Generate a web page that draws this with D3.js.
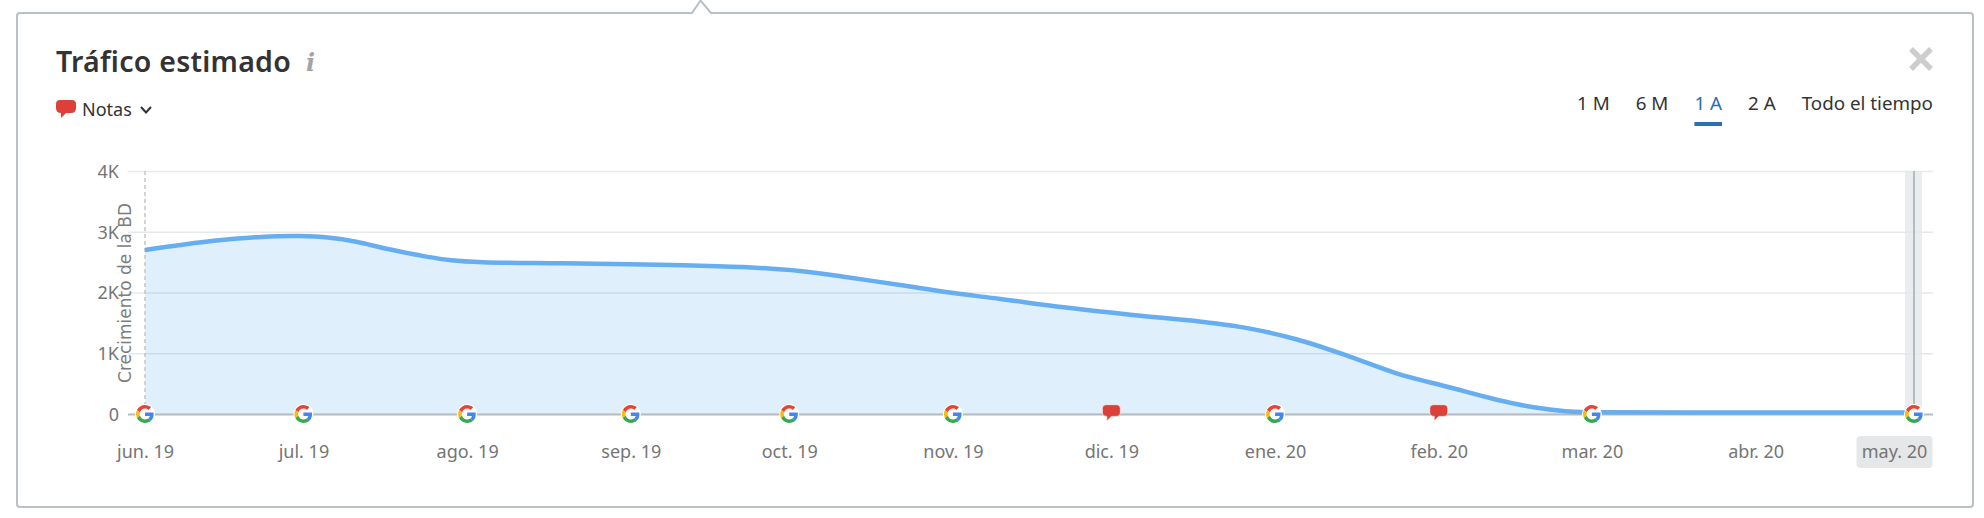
<!DOCTYPE html>
<html lang="es">
<head>
<meta charset="utf-8">
<title>Tráfico estimado</title>
<script src="https://cdn.jsdelivr.net/npm/d3@7/dist/d3.min.js"></script>
<style>
html,body{margin:0;padding:0;background:#fff;overflow:hidden}
svg{display:block}
text{font-family:"Noto Sans",sans-serif}
</style>
</head>
<body>
<div id="chart"></div>
<script>
const title = "Tráfico estimado";
const notesLabel = "Notas";
const rangeTabs = ["1 M","6 M","1 A","2 A","Todo el tiempo"];
const activeTab = "1 A";
const yAxisTitle = "Crecimiento de la BD";
const yTicks = [0,1000,2000,3000,4000];
const yTickLabels = ["0","1K","2K","3K","4K"];
const monthDates = ["2019-06-01","2019-07-01","2019-08-01","2019-09-01","2019-10-01","2019-11-01","2019-12-01","2020-01-01","2020-02-01","2020-03-01","2020-04-01","2020-05-01"];
const monthLabels = ["jun. 19","jul. 19","ago. 19","sep. 19","oct. 19","nov. 19","dic. 19","ene. 20","feb. 20","mar. 20","abr. 20","may. 20"];
const monthEvents = ["g","g","g","g","g","g","n","g","n","g","","g"];
const trafficDates = ["2019-06-01","2019-06-14","2019-06-23","2019-06-30","2019-07-06","2019-07-11","2019-07-17","2019-07-24","2019-07-29","2019-08-04","2019-08-19","2019-09-01","2019-09-11","2019-09-23","2019-10-03","2019-10-12","2019-10-22","2019-10-31","2019-11-10","2019-11-22","2019-12-05","2019-12-18","2019-12-27","2020-01-05","2020-01-15","2020-01-24","2020-02-03","2020-02-12","2020-02-19","2020-02-25","2020-03-01","2020-04-01","2020-05-01"];
const trafficValues = [2700,2853,2914,2928,2900,2835,2715,2595,2530,2497,2480,2464,2448,2415,2354,2250,2123,2003,1893,1756,1630,1520,1410,1230,950,670,440,235,110,45,30,26,24];

const W = 1984, H = 518;
const parse = d3.utcParse("%Y-%m-%d");
const x = d3.scaleUtc().domain([parse(monthDates[0]), parse(monthDates[monthDates.length-1])]).range([145,1914]);
const y = d3.scaleLinear().domain([0,4000]).range([414,171]);

const svg = d3.select("#chart").append("svg").attr("width",W).attr("height",H);

/* panel + notch */
svg.append("path")
  .attr("d","M692,13 L700.5,0.5 L711,13 L1970,13 Q1973,13 1973,16 L1973,504 Q1973,507 1970,507 L20,507 Q17,507 17,504 L17,16 Q17,13 20,13 Z")
  .attr("fill","#fff").attr("stroke","#b9bfc3").attr("stroke-width",2);

/* header */
svg.append("text").attr("x",56).attr("y",72).attr("font-size",28.5).attr("font-weight",600).attr("letter-spacing",0.25).attr("fill","#333").text(title);
svg.append("text").attr("x",306).attr("y",71).attr("font-size",24).attr("font-weight",700).attr("font-style","italic")
  .style("font-family","'DejaVu Serif',serif").attr("fill","#a3a3a3").text("i");

const bubble = "M-10,-3 Q-10,-7 -6,-7 L6,-7 Q10,-7 10,-3 L10,1 Q10,6 5,6 L0,6 L-5,11 L-5,6 Q-10,6 -10,1 Z";
svg.append("path").attr("d",bubble).attr("transform","translate(66,107)").attr("fill","#dd4039");
svg.append("text").attr("x",82).attr("y",116).attr("font-size",18).attr("fill","#333").text(notesLabel);
svg.append("path").attr("d","M141,107 L146,112.5 L151,107").attr("fill","none").attr("stroke","#333").attr("stroke-width",2);

/* close */
svg.append("path").attr("d","M1911,49 L1931,69 M1931,49 L1911,69").attr("stroke","#cdcdcd").attr("stroke-width",5.5).attr("fill","none");

/* range tabs (right aligned, laid out from measured widths) */
const tabs = svg.append("g");
const tabGap = 26; let tx = 1933;
[...rangeTabs].reverse().forEach(t => {
  const el = tabs.append("text").attr("x",tx).attr("y",110).attr("text-anchor","end").attr("font-size",18.8)
    .attr("fill", t===activeTab ? "#2b6fb5" : "#333").text(t);
  const w = el.node().getComputedTextLength();
  if (t===activeTab) tabs.append("rect").attr("x",tx-w).attr("y",122).attr("width",w).attr("height",4).attr("fill","#2b6fb5");
  tx -= w + tabGap;
});

/* selected-month band */
const lastX = x(parse(monthDates[monthDates.length-1]));
svg.append("rect").attr("x",lastX-9).attr("y",y(4000)).attr("width",17).attr("height",y(0)-y(4000)).attr("fill","#e9eded");

/* area + grid */
const pts = trafficDates.map((d,i)=>({date:parse(d),v:trafficValues[i]}));
const curve = d3.curveCatmullRom.alpha(0.5);
const area = d3.area().x(d=>x(d.date)).y0(y(0)).y1(d=>y(d.v)).curve(curve);
const line = d3.line().x(d=>x(d.date)).y(d=>y(d.v)).curve(curve);

const yAxis = d3.axisLeft(y).tickValues(yTicks).tickFormat((d,i)=>yTickLabels[i]).tickSize(0).tickPadding(9);
const gy = svg.append("g").attr("transform","translate(128,0)").call(yAxis);
gy.select(".domain").remove();
gy.selectAll("text").attr("font-size",18).attr("fill","#757575").attr("dy","0.36em");
gy.selectAll(".tick").append("line").attr("x1",0).attr("x2",1933-128)
  .attr("stroke",d=>d===0?"#b5bbbf":"#e6e8ea").attr("stroke-width",d=>d===0?2:1.5);

svg.append("path").datum(pts).attr("d",area).attr("fill","#57a9ee").attr("fill-opacity",0.19);

svg.append("line").attr("x1",lastX).attr("x2",lastX).attr("y1",y(4000)).attr("y2",y(0)).attr("stroke","#b5bcc0").attr("stroke-width",2);
svg.append("line").attr("x1",145).attr("x2",145).attr("y1",y(4000)).attr("y2",y(0))
  .attr("stroke","#c2c6c9").attr("stroke-width",1.5).attr("stroke-dasharray","4,3");

svg.append("path").datum(pts).attr("d",line).attr("fill","none").attr("stroke","#66aeef").attr("stroke-width",4.5).attr("stroke-linejoin","round");

/* rotated title */
svg.append("text").attr("transform","translate(130.5,293) rotate(-90)").attr("text-anchor","middle")
  .style("font-family","'DejaVu Sans',sans-serif").attr("font-size",17).attr("fill","#7d7d7d").text(yAxisTitle);

/* x axis */
const xDates = monthDates.map(parse);
const xAxis = d3.axisBottom(x).tickValues(xDates).tickFormat((d,i)=>monthLabels[i]).tickSize(0).tickPadding(0);
const gx = svg.append("g").attr("transform","translate(0,458)").call(xAxis);
gx.select(".domain").remove();
const lastTick = gx.selectAll(".tick").filter((d,i)=>i===monthDates.length-1);
lastTick.insert("rect","text").attr("x",-58).attr("y",-22).attr("width",76).attr("height",32).attr("rx",4).attr("fill","#e6e7e8");
gx.selectAll("text").attr("font-size",18).attr("fill","#757575").attr("y",0).attr("dy",0);
lastTick.select("text").attr("x",-20);

/* event markers */
const gPaths = [
 ["#EA4335","M24 9.5c3.54 0 6.71 1.22 9.21 3.6l6.85-6.85C35.9 2.38 30.47 0 24 0 14.62 0 6.51 5.38 2.56 13.22l7.98 6.19C12.43 13.72 17.74 9.5 24 9.5z"],
 ["#4285F4","M46.98 24.55c0-1.57-.15-3.09-.38-4.55H24v9.02h12.94c-.58 2.96-2.26 5.48-4.78 7.18l7.73 6c4.51-4.18 7.09-10.36 7.09-17.65z"],
 ["#FBBC05","M10.53 28.59c-.48-1.45-.76-2.99-.76-4.59s.27-3.14.76-4.59l-7.98-6.19C.92 16.46 0 20.12 0 24c0 3.88.92 7.54 2.56 10.78l7.97-6.19z"],
 ["#34A853","M24 48c6.48 0 11.93-2.13 16.02-5.81l-7.73-6c-2.15 1.45-4.92 2.3-8.3 2.3-6.26 0-11.57-4.22-13.47-9.91l-7.98 6.19C6.51 42.62 14.62 48 24 48z"]
];
const ev = svg.append("g").selectAll("g").data(monthEvents.map((e,i)=>({e,d:xDates[i]})).filter(d=>d.e)).join("g")
  .attr("transform",d=>`translate(${x(d.d)},${y(0)})`);
ev.filter(d=>d.e==="g").each(function(){
  const g = d3.select(this);
  g.append("circle").attr("r",10).attr("fill","#fff");
  const p = g.append("g").attr("transform","translate(-9,-9) scale(0.375)");
  gPaths.forEach(([c,dp])=>p.append("path").attr("d",dp).attr("fill",c));
});
ev.filter(d=>d.e==="n").each(function(){
  d3.select(this).append("path").attr("d",bubble).attr("transform","translate(0,-3) scale(0.9)")
    .attr("fill","#dd4039").attr("stroke","#fff").attr("stroke-opacity",0.7).attr("stroke-width",1);
});
</script>
</body>
</html>
